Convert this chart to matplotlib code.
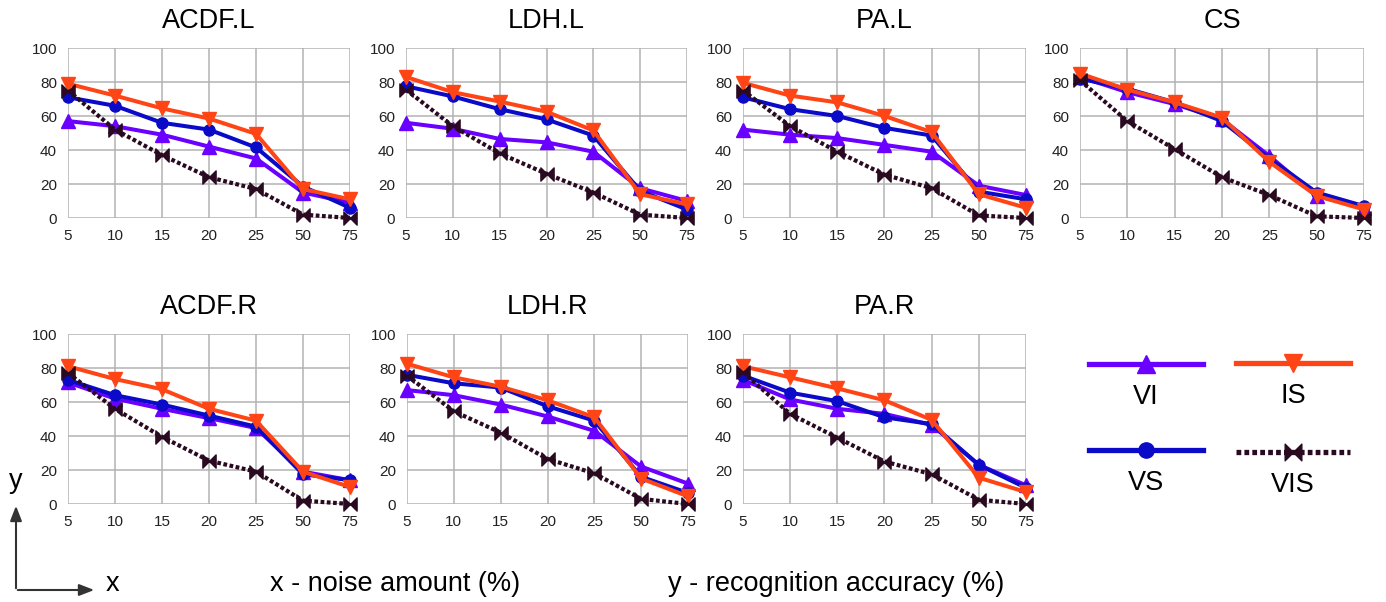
import matplotlib
matplotlib.use("Agg")
import matplotlib.pyplot as plt
from matplotlib.path import Path
from matplotlib.lines import Line2D

plt.rcParams['font.family'] = ['Liberation Sans', 'DejaVu Sans']

# Data
x_labels = ['5', '10', '15', '20', '25', '50', '75']
panels = ['ACDF.L', 'LDH.L', 'PA.L', 'CS', 'ACDF.R', 'LDH.R', 'PA.R']

vi = [[57, 54, 49, 42, 35, 15, 9],
      [56, 52.5, 46.5, 44.5, 39, 17.5, 10],
      [52, 49, 47, 43, 39, 19, 13.5],
      [83, 74, 67, 58, 36.5, 13, 6],
      [71.5, 62, 56, 50.5, 44.7, 19, 14],
      [67, 64, 58.5, 51.5, 43, 22, 12],
      [73, 61.5, 56, 53, 46.5, 23, 11]]
vs = [[71, 66, 56, 52, 41.5, 18.5, 6],
      [77.5, 71.5, 64, 58, 48.5, 16, 5],
      [71, 64, 60, 53, 48.5, 15.5, 11],
      [82, 76, 68, 57, 35, 15, 7],
      [73, 64, 58.5, 52, 45.5, 17.5, 14],
      [76, 71, 68.5, 57.5, 49, 16, 6.5],
      [75.5, 65.5, 60.5, 51, 47, 23, 9.5]]
is_ = [[79, 72, 64.5, 58.5, 49.5, 17, 11],
       [83, 74, 68.5, 62.5, 51.5, 14, 8],
       [79.5, 72, 68, 60, 50.5, 14, 6],
       [85, 75.5, 68, 59, 33, 13, 5],
       [81, 73.5, 67.5, 56, 49, 19, 10],
       [82.5, 74.5, 69, 61, 51, 15, 4.5],
       [81, 74.5, 68, 61, 49.5, 15.5, 7]]
vis = [[75, 52, 37, 24, 17, 2, 0],
       [75.5, 54, 38, 26, 15, 2, 0],
       [75, 54, 39, 25.5, 17.5, 1.5, 0],
       [81, 57, 40.5, 24, 13.5, 1, 0],
       [77, 56, 39.5, 25.5, 19, 2, 0],
       [75.5, 54.5, 42, 26.5, 18, 3, 0],
       [77.5, 53, 39, 25, 17.5, 2.5, 0]]

# Styles
c_vi = '#6a00ff'
c_vs = '#0a0ac8'
c_is = '#ff4515'
c_vis = '#2a0a20'
bowtie = Path([(-1, -1), (-1, 1), (0, 0), (-1, -1), (1, -1), (1, 1), (0, 0), (1, -1)],
              [Path.MOVETO, Path.LINETO, Path.LINETO, Path.CLOSEPOLY,
               Path.MOVETO, Path.LINETO, Path.LINETO, Path.CLOSEPOLY])
vis_dash = (0, (0.9, 0.6))
big = 19.5

W, H = 1386, 602
fig = plt.figure(figsize=(W / 100, H / 100), dpi=100)

# axes pixel boxes: left, top, right, bottom
boxes = [(68, 48, 350, 218), (406, 48, 687, 218), (743, 48, 1026, 218), (1080, 48, 1364, 218),
         (68, 334, 350, 504), (407, 334, 688, 504), (743, 334, 1026, 504)]

xs = list(range(len(x_labels)))
for i, name in enumerate(panels):
    l, t, r, b = boxes[i]
    ax = fig.add_axes([l / W, 1 - b / H, (r - l) / W, (b - t) / H])
    ax.plot(xs, vi[i], color=c_vi, lw=2.9, marker='^', ms=9.5, clip_on=False, zorder=3)
    ax.plot(xs, vs[i], color=c_vs, lw=2.9, marker='o', ms=8, clip_on=False, zorder=3)
    ax.plot(xs, is_[i], color=c_is, lw=2.9, marker='v', ms=9.5, clip_on=False, zorder=3)
    ax.plot(xs, vis[i], color=c_vis, lw=3, ls=vis_dash, marker=bowtie, ms=9.5,
            clip_on=False, zorder=3)
    ax.set_xlim(0, 6)
    ax.set_ylim(0, 100)
    ax.set_xticks(xs)
    ax.set_xticklabels(x_labels)
    ax.set_yticks([0, 20, 40, 60, 80, 100])
    ax.grid(True, color='#b3b3b3', lw=1.1)
    ax.tick_params(length=0, labelsize=11, pad=8, colors='#222222')
    for s in ax.spines.values():
        s.set_visible(False)
    ax.set_axisbelow(True)
    fig.text((l + r) / 2 / W, 1 - (t - 27) / H, name, ha='center', va='center', fontsize=big)

# overlay for legend and annotations (pixel coordinates)
ov = fig.add_axes([0, 0, 1, 1])
ov.set_xlim(0, W)
ov.set_ylim(H, 0)
ov.axis('off')

leg = [('VI', c_vi, '-', '^', 13, 1146, 364),
       ('IS', c_is, '-', 'v', 13, 1293, 363),
       ('VS', c_vs, '-', 'o', 11, 1146, 450),
       ('VIS', c_vis, vis_dash, bowtie, 12, 1293, 452)]
for lab, col, ls, mk, ms, cx, cy in leg:
    ov.add_line(Line2D([cx - 57, cx + 57], [cy, cy], color=col, lw=3.8, ls=ls))
    ov.plot([cx], [cy], marker=mk, ms=ms, color=col, ls='none')
    ov.text(cx, cy + 33, lab, ha='center', va='center', fontsize=big)

ov.annotate('', xy=(16, 503), xytext=(16, 591),
            arrowprops=dict(arrowstyle='-|>,head_length=0.9,head_width=0.35', color='#333333', lw=1.5))
ov.annotate('', xy=(97, 590), xytext=(15, 590),
            arrowprops=dict(arrowstyle='-|>,head_length=0.9,head_width=0.35', color='#333333', lw=1.5))
ov.text(16, 481, 'y', ha='center', va='center', fontsize=big)
ov.text(113, 584, 'x', ha='center', va='center', fontsize=big)
ov.text(395, 584, 'x - noise amount (%)', ha='center', va='center', fontsize=big)
ov.text(836, 584, 'y - recognition accuracy (%)', ha='center', va='center', fontsize=big)

fig.savefig('out.png', dpi=100)
